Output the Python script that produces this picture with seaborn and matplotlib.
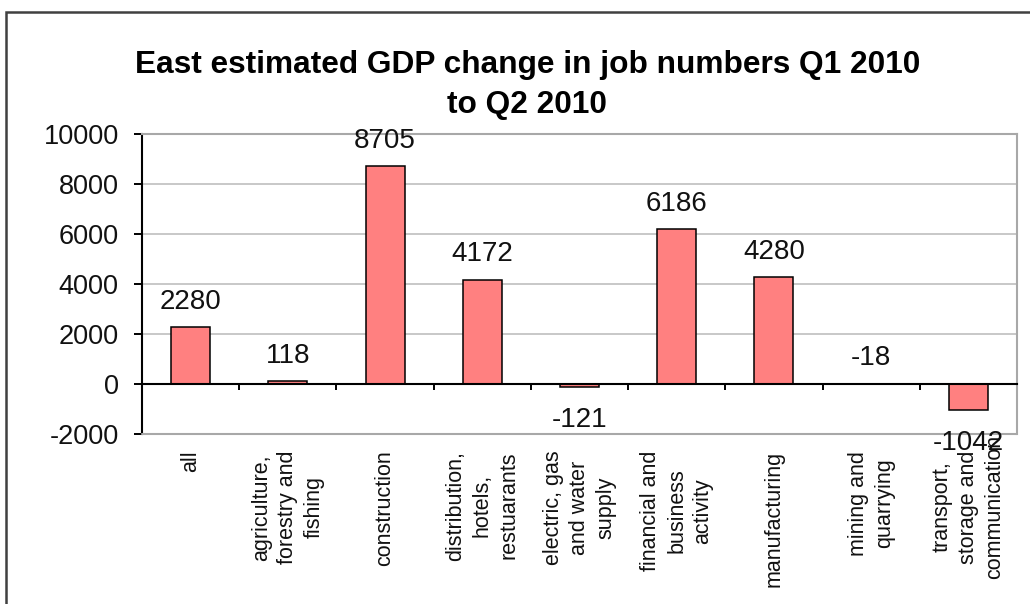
import matplotlib
matplotlib.use("Agg")
import matplotlib.pyplot as plt
from matplotlib.patches import Rectangle
from matplotlib.ticker import FixedLocator, MultipleLocator
import numpy as np
import pandas as pd
import seaborn as sns

# Change in job numbers by sector, Q1 2010 to Q2 2010 (East)
sectors = [
    "all",
    "agriculture,\nforestry and\nfishing",
    "construction",
    "distribution,\nhotels,\nrestuarants",
    "electric, gas\nand water\nsupply",
    "financial and\nbusiness\nactivity",
    "manufacturing",
    "mining and\nquarrying",
    "transport,\nstorage and\ncommunication",
]
job_change = [2280, 118, 8705, 4172, -121, 6186, 4280, -18, -1042]
y_ticks = [-2000, 0, 2000, 4000, 6000, 8000, 10000]

title = "East estimated GDP change in job numbers Q1 2010\nto Q2 2010"

sns.set_theme(style="white")
plt.rcParams["font.family"] = ["Liberation Sans", "DejaVu Sans"]

df = pd.DataFrame({"sector": sectors, "change": job_change})

fig = plt.figure(figsize=(10.30, 6.04), dpi=100)
fig.patch.set_facecolor("white")
ax = fig.add_axes([142 / 1030, 170 / 604, 875 / 1030, 300 / 604])

sns.barplot(
    data=df, x="sector", y="change", color="#FF8080", saturation=1,
    width=0.4, edgecolor="black", linewidth=1.1, ax=ax,
)

ax.set_xlim(-0.5, len(sectors) - 0.5)
ax.set_ylim(y_ticks[0], y_ticks[-1])
ax.set_xlabel("")
ax.set_ylabel("")

# light horizontal gridlines
ax.yaxis.set_major_locator(FixedLocator(y_ticks))
ax.yaxis.grid(True, color="#c8c8c8", linewidth=1.4)
ax.set_axisbelow(True)

# plot frame: black value axis, gray outline, category axis on the zero line
frame_gray = "#a8a8a8"
for side in ("top", "right"):
    ax.spines[side].set_visible(True)
    ax.spines[side].set_color(frame_gray)
    ax.spines[side].set_linewidth(1.5)
ax.spines["left"].set_color("black")
ax.spines["left"].set_linewidth(1.5)
ax.spines["bottom"].set_position(("data", 0))
ax.spines["bottom"].set_color("black")
ax.spines["bottom"].set_linewidth(1.5)
ax.spines["bottom"].set_zorder(3)
ax.axhline(y_ticks[0], color=frame_gray, linewidth=1.5, clip_on=False, zorder=3)

ax.set_yticks(y_ticks)
ax.set_yticklabels([str(t) for t in y_ticks])
ax.tick_params(axis="y", which="major", direction="out", length=6, width=1.4,
               color="black", pad=10.8, labelsize=19.5, labelcolor="#111111",
               left=True)

# category separators as minor ticks on the zero line
ax.xaxis.set_minor_locator(MultipleLocator(1, offset=0.5))
ax.tick_params(axis="x", which="minor", direction="out", length=4.3, width=1.4,
               color="black", bottom=True)
ax.tick_params(axis="x", which="major", length=0, pad=48, labelsize=15.5,
               labelcolor="#111111")
ax.set_xticks(range(len(sectors)))
ax.set_xticklabels(sectors, rotation=90, ha="center", va="top",
                   multialignment="center", linespacing=1.33)
ax.xaxis.get_major_ticks()[-1].set_pad(36.7)

# value labels at the end of each bar
for i, v in enumerate(job_change):
    place_above = v > -100  # tiny bars keep their label above the axis line
    if place_above:
        offset = 13.3 if v >= 0 else 14.0
    else:
        offset = -28.8
    ax.annotate(str(v), xy=(i, v), xytext=(0, offset), textcoords="offset points",
                ha="center", va="baseline", fontsize=20, color="#111111",
                annotation_clip=False)

fig.text(0.512, 1 - 50 / 604, title, ha="center", va="top", fontsize=22.8,
         fontweight="bold", color="black", linespacing=1.42)

# chart border
fig.add_artist(Rectangle((6 / 1030, -0.2), 1.3, 0.2 + (1 - 12 / 604),
                         transform=fig.transFigure, fill=False,
                         edgecolor="#404040", linewidth=1.8))

fig.savefig("out.png", dpi=100, facecolor="white")
